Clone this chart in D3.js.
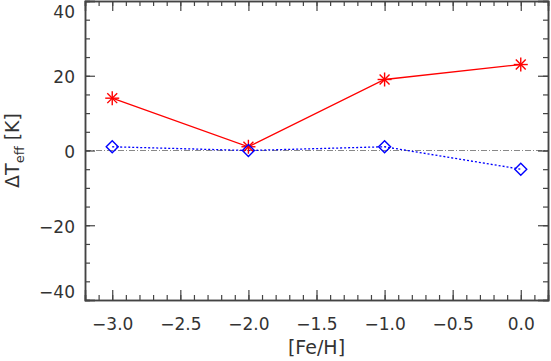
<!DOCTYPE html>
<html>
<head>
<meta charset="utf-8">
<script src="https://cdn.jsdelivr.net/npm/d3@7"></script>
<style>
  body { margin: 0; background: #fff; }
  text { font-family: "DejaVu Sans", "Liberation Sans", sans-serif; fill: #333; }
</style>
</head>
<body>
<div id="chart"></div>
<script>
// Chart data
const feH = [-3.0, -2.0, -1.0, 0.0];
const dTeffRed = [14, 1, 19, 23];
const dTeffBlue = [1, 0, 1, -5];
const xTicks = [-3.0, -2.5, -2.0, -1.5, -1.0, -0.5, 0.0];
const yTicks = [-40, -20, 0, 20, 40];

const width = 551, height = 361;
const margin = { top: 1, right: 3, bottom: 61, left: 85 };

const svg = d3.select("#chart")
  .append("svg")
  .attr("width", width)
  .attr("height", height);

const x = d3.scaleLinear()
  .domain([-3.2, 0.2])
  .range([margin.left, width - margin.right]);

const y = d3.scaleLinear()
  .domain([-40, 40])
  .range([height - margin.bottom, margin.top]);

const fmtX = d => (d < 0 ? "\u2212" : "") + Math.abs(d).toFixed(1);
const fmtY = d => (d < 0 ? "\u2212" : "") + Math.abs(d);

const axisColor = "#444";

// zero line (dash-dot)
svg.append("line")
  .attr("x1", x(-3.2)).attr("x2", x(0.2))
  .attr("y1", y(0)).attr("y2", y(0))
  .attr("stroke", "#888")
  .attr("stroke-width", 1)
  .attr("stroke-dasharray", "6,2,1,2");

// axes: bottom, top, left, right
function drawAxis(axisGen, transform, showLabels) {
  const g = svg.append("g").attr("transform", transform).call(axisGen);
  g.select(".domain").attr("stroke", axisColor).attr("stroke-width", 1.5);
  g.selectAll(".tick line").attr("stroke", axisColor).attr("stroke-width", 1.2);
  g.selectAll("text").attr("font-size", "17px").attr("fill", "#333");
  if (!showLabels) g.selectAll("text").remove();
  return g;
}

const xMinor = d3.range(-32, 3).map(i => i / 10);
const yMinor = d3.range(-40, 41, 5);

// minor ticks
drawAxis(d3.axisBottom(x).tickValues(xMinor).tickSize(-5).tickFormat(""),
  `translate(0,${y(-40)})`, false);
drawAxis(d3.axisTop(x).tickValues(xMinor).tickSize(-5).tickFormat(""),
  `translate(0,${y(40)})`, false);
drawAxis(d3.axisLeft(y).tickValues(yMinor).tickSize(-5).tickFormat(""),
  `translate(${x(-3.2)},0)`, false);
drawAxis(d3.axisRight(y).tickValues(yMinor).tickSize(-5).tickFormat(""),
  `translate(${x(0.2)},0)`, false);

// major ticks
drawAxis(d3.axisBottom(x).tickValues(xTicks).tickSize(-10).tickPadding(18).tickFormat(fmtX),
  `translate(0,${y(-40)})`, true);
drawAxis(d3.axisTop(x).tickValues(xTicks).tickSize(-10).tickFormat(""),
  `translate(0,${y(40)})`, false);
const yAxisG = drawAxis(d3.axisLeft(y).tickValues(yTicks).tickSize(-10).tickPadding(10).tickFormat(fmtY),
  `translate(${x(-3.2)},0)`, true);
drawAxis(d3.axisRight(y).tickValues(yTicks).tickSize(-10).tickFormat(""),
  `translate(${x(0.2)},0)`, false);

// keep the end labels inside the plot height
yAxisG.selectAll(".tick text")
  .attr("dy", d => d === 40 ? "0.95em" : d === -40 ? "-0.15em" : "0.4em");

// series
const line = d3.line().x(d => x(d[0])).y(d => y(d[1]));
const redData = feH.map((f, i) => [f, dTeffRed[i]]);
const blueData = feH.map((f, i) => [f, dTeffBlue[i]]);

svg.append("path")
  .datum(redData)
  .attr("d", line)
  .attr("fill", "none")
  .attr("stroke", "#ff0000")
  .attr("stroke-width", 1.3);

svg.append("path")
  .datum(blueData)
  .attr("d", line)
  .attr("fill", "none")
  .attr("stroke", "#0000ff")
  .attr("stroke-width", 1.3)
  .attr("stroke-dasharray", "2,2");

// red asterisks
const star = svg.append("g").selectAll("g")
  .data(redData)
  .enter()
  .append("g")
  .attr("transform", d => `translate(${x(d[0])},${y(d[1])})`);
[0, 45, 90, 135].forEach(a => {
  star.append("line")
    .attr("x1", -7).attr("x2", 7).attr("y1", 0).attr("y2", 0)
    .attr("transform", `rotate(${a})`)
    .attr("stroke", "#ff0000")
    .attr("stroke-width", 1.4);
});

// blue diamonds
svg.append("g").selectAll("path")
  .data(blueData)
  .enter()
  .append("path")
  .attr("d", "M0,-6L6,0L0,6L-6,0Z")
  .attr("transform", d => `translate(${x(d[0])},${y(d[1])})`)
  .attr("fill", "none")
  .attr("stroke", "#0000ff")
  .attr("stroke-width", 1.4);

// axis titles
svg.append("text")
  .attr("x", (x(-3.2) + x(0.2)) / 2)
  .attr("y", 354)
  .attr("text-anchor", "middle")
  .attr("font-size", "19px")
  .text("[Fe/H]");

const yl = svg.append("text")
  .attr("transform", `translate(19,${y(0)}) rotate(-90)`)
  .attr("text-anchor", "middle")
  .attr("font-size", "19px");
yl.append("tspan").text("\u0394T");
yl.append("tspan").attr("dy", 5).attr("font-size", "13px").text("eff");
yl.append("tspan").attr("dy", -5).text("  [K]");
</script>
</body>
</html>
